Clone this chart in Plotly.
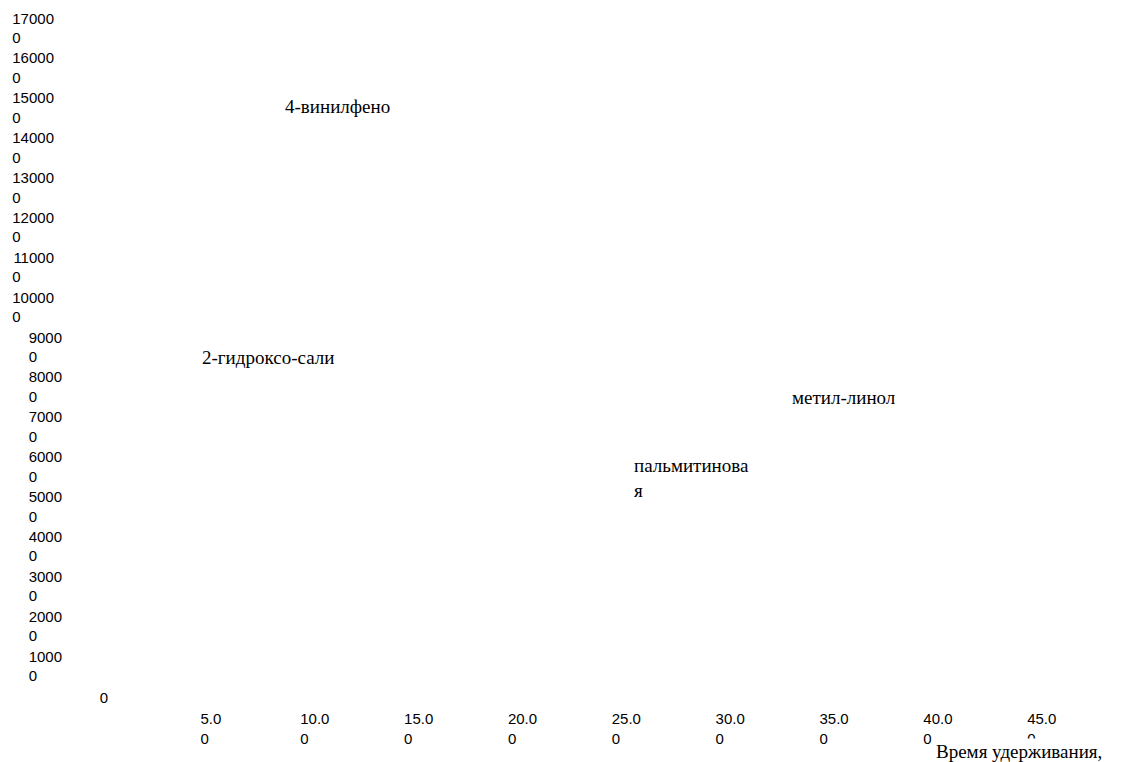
import plotly.graph_objects as go

NB = "\u00a0"

# ---- data ----
x_ticks = [5, 10, 15, 20, 25, 30, 35, 40, 45]
x_tick_text = ["5.0<br>0" + NB * 3, "10.0<br>0" + NB * 5, "15.0<br>0" + NB * 5,
               "20.0<br>0" + NB * 5, "25.0<br>0" + NB * 5, "30.0<br>0" + NB * 5,
               "35.0<br>0" + NB * 5, "40.0<br>0" + NB * 5, "45.0<br>0" + NB * 5]

y_ticks_hi = [100000, 110000, 120000, 130000, 140000, 150000, 160000, 170000]
y_text_hi = ["10000<br>0" + NB * 8, "11000<br>0" + NB * 8, "12000<br>0" + NB * 8,
             "13000<br>0" + NB * 8, "14000<br>0" + NB * 8, "15000<br>0" + NB * 8,
             "16000<br>0" + NB * 8, "17000<br>0" + NB * 8]
y_ticks_lo = [10000, 20000, 30000, 40000, 50000, 60000, 70000, 80000, 90000]
y_text_lo = ["1000<br>0" + NB * 6, "2000<br>0" + NB * 6, "3000<br>0" + NB * 6,
             "4000<br>0" + NB * 6, "5000<br>0" + NB * 6, "6000<br>0" + NB * 6,
             "7000<br>0" + NB * 6, "8000<br>0" + NB * 6, "9000<br>0" + NB * 6]
y_ticks_zero = [0]
y_text_zero = ["0"]

peak_times = [8.49, 4.49, 32.90, 25.29]
peak_heights = [150200, 87300, 77300, 63500]
peak_labels = ["4-винилфено", "2-гидроксо-сали", "метил-линол", "пальмитинова<br>я"]

x_title = "Время удерживания,"

# ---- figure ----
W, H = 1125, 762
x0_px, x_scale = 99.1, 20.77
x_max = 49
dom = [x0_px / W, (x0_px + x_max * x_scale) / W]

tick_font = dict(family="Liberation Sans, Arial", size=15, color="black")
serif = dict(family="Liberation Serif, Times New Roman", size=19, color="black")

fig = go.Figure()
fig.add_trace(go.Scatter(x=[], y=[], xaxis="x", yaxis="y", showlegend=False))
fig.add_trace(go.Scatter(x=[], y=[], xaxis="x", yaxis="y2", showlegend=False))
fig.add_trace(go.Scatter(x=[], y=[], xaxis="x", yaxis="y3", showlegend=False))

common_y = dict(range=[-1, 170001], showgrid=False, zeroline=False, showline=False,
                ticks="", tickfont=tick_font, tickmode="array", anchor="free")

fig.update_layout(
    width=W, height=H,
    margin=dict(l=0, r=0, t=20, b=64),
    paper_bgcolor="white", plot_bgcolor="white",
    showlegend=False,
    xaxis=dict(domain=dom, range=[0, x_max], showgrid=False, zeroline=False,
               showline=False, ticks="", tickmode="array", tickvals=x_ticks,
               ticktext=x_tick_text, tickfont=tick_font, anchor="y",
               ticklabelstandoff=2),
    yaxis=dict(common_y, tickvals=y_ticks_hi, ticktext=y_text_hi,
               position=46 / W, ticklabelshift=0),
    yaxis2=dict(common_y, tickvals=y_ticks_lo, ticktext=y_text_lo,
                position=54 / W, overlaying="y", ticklabelshift=0),
    yaxis3=dict(common_y, tickvals=y_ticks_zero, ticktext=y_text_zero,
                position=100 / W, overlaying="y", ticklabelshift=-8),
)

for t, h, lab in zip(peak_times, peak_heights, peak_labels):
    fig.add_annotation(x=t, y=h, xref="x", yref="y", text=lab, showarrow=False,
                       xanchor="left", yanchor="top" if "<br>" in lab else "middle",
                       align="left", font=serif)

fig.add_annotation(x=925 / W, y=-(743 - 698) / 678, xref="paper", yref="paper",
                   text=x_title, showarrow=False, xanchor="left", yanchor="middle",
                   bgcolor="white", borderpad=2, font=serif)

fig.write_html("out.html")
